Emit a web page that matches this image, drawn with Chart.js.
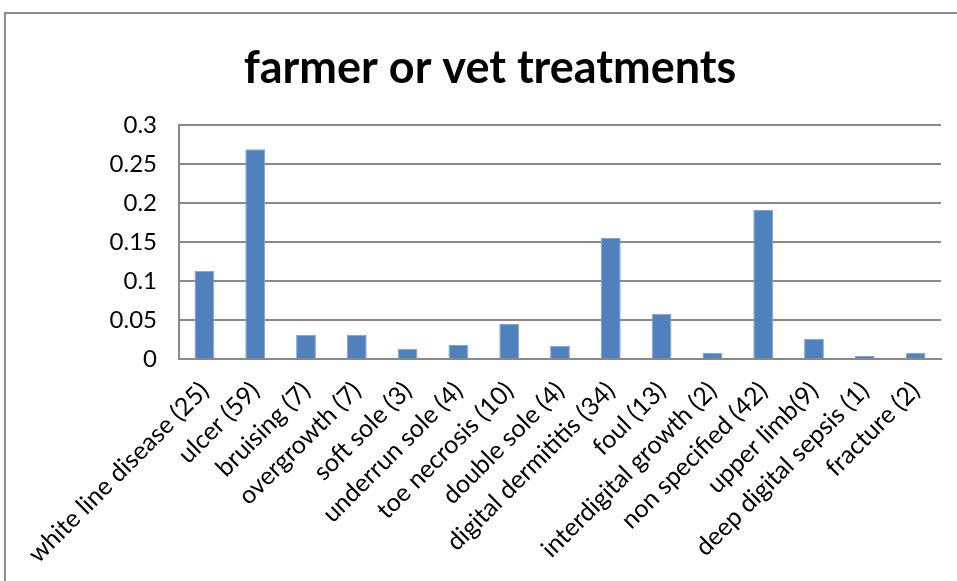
<!DOCTYPE html>
<html lang="en">
<head>
<meta charset="UTF-8" />
<title>farmer or vet treatments</title>
<script src="https://cdn.jsdelivr.net/npm/chart.js"></script>
<style>
  body { margin: 0; background: #fff; }
  #wrap { width: 957px; height: 581px; }
</style>
</head>
<body>
<div id="wrap"><canvas id="treatChart" width="957" height="581"></canvas></div>
<script>
const categories = [
  "white line disease (25)", "ulcer (59)", "bruising (7)", "overgrowth (7)",
  "soft sole (3)", "underrun sole (4)", "toe necrosis (10)", "double sole (4)",
  "digital dermititis (34)", "foul (13)", "interdigital growth (2)",
  "non specified (42)", "upper limb(9)", "deep digital sepsis (1)", "fracture (2)"
];
const proportions = [
  0.113, 0.269, 0.031, 0.031, 0.013, 0.018, 0.045, 0.017,
  0.155, 0.058, 0.008, 0.191, 0.026, 0.004, 0.008
];
const yTicks = [0, 0.05, 0.1, 0.15, 0.2, 0.25, 0.3];

const FONT = "Lato, 'Liberation Sans', sans-serif";
const GRID = "#898989";

// outer frame of the chart box (only top and left edges fall inside the canvas)
const framePlugin = {
  id: "frame",
  beforeDraw(chart) {
    const c = chart.ctx;
    c.save();
    c.strokeStyle = "#8c8c8c";
    c.lineWidth = 2;
    c.beginPath();
    c.moveTo(5, 590);
    c.lineTo(5, 13);
    c.lineTo(960, 13);
    c.stroke();
    c.restore();
  }
};

new Chart(document.getElementById("treatChart"), {
  type: "bar",
  data: {
    labels: categories,
    datasets: [{
      label: "farmer or vet treatments",
      data: proportions,
      backgroundColor: "#4F81BD",
      borderColor: "#7FA3D3",
      borderWidth: 1,
      barPercentage: 0.78,
      categoryPercentage: 0.5
    }]
  },
  options: {
    responsive: false,
    animation: false,
    layout: { padding: { left: 39, right: 16, top: 0, bottom: 0 } },
    plugins: {
      legend: { display: false },
      tooltip: { enabled: false },
      title: {
        display: true,
        text: "farmer or vet treatments",
        color: "#000",
        font: { family: FONT, size: 45, weight: "bold", lineHeight: 1.2 },
        padding: { top: 41, bottom: 30 }
      }
    },
    scales: {
      x: {
        grid: { display: false, drawTicks: false },
        border: { display: true, color: GRID, width: 2 },
        ticks: {
          autoSkip: false,
          minRotation: 45,
          maxRotation: 45,
          padding: 17,
          color: "#000",
          font: { family: FONT, size: 25 }
        },
        afterFit(scale) { scale.height = 222; }
      },
      y: {
        min: 0,
        max: 0.3,
        afterBuildTicks(scale) { scale.ticks = yTicks.map(v => ({ value: v })); },
        grid: { color: GRID, lineWidth: 2, drawTicks: false },
        border: { display: true, color: GRID, width: 2 },
        ticks: {
          padding: 22,
          color: "#000",
          font: { family: FONT, size: 24 },
          callback: v => String(+v.toFixed(2))
        },
        afterFit(scale) { scale.width = 140; }
      }
    }
  },
  plugins: [framePlugin]
});
</script>
</body>
</html>
